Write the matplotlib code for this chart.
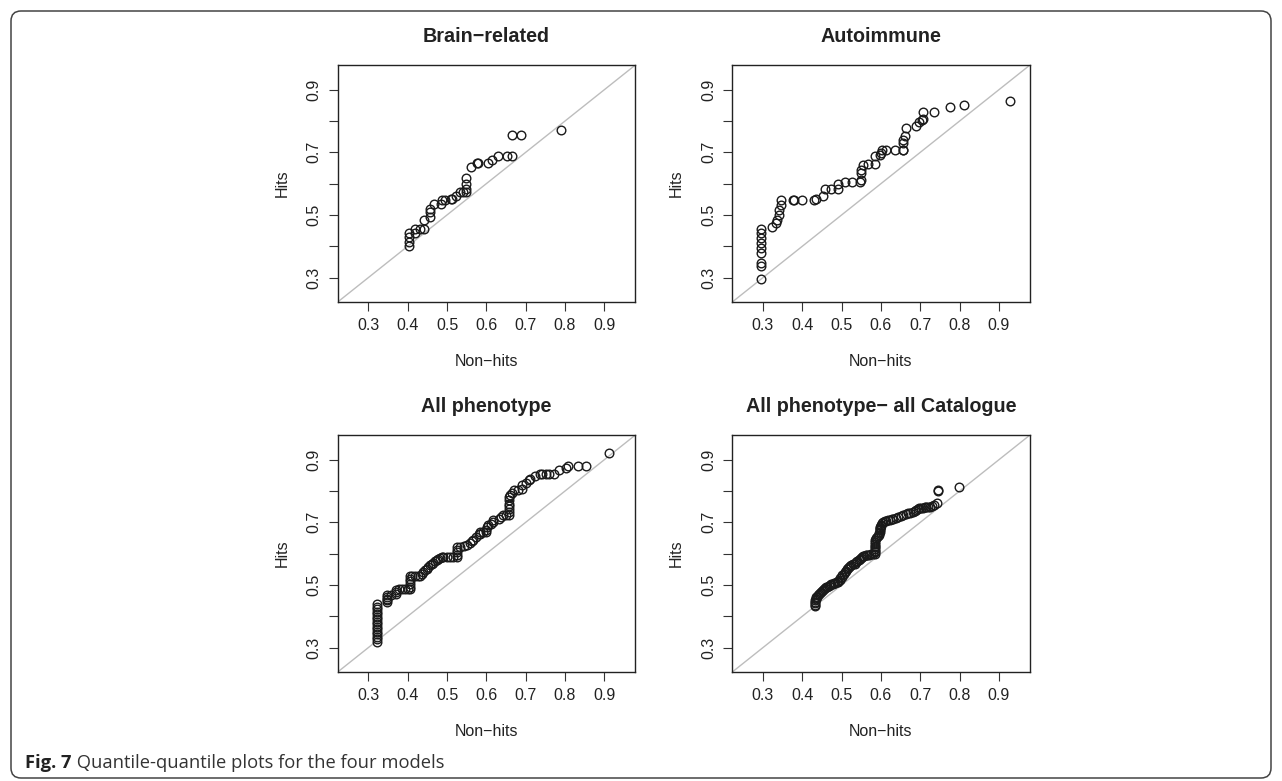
import matplotlib
matplotlib.use('Agg')
import matplotlib.pyplot as plt
from matplotlib.patches import FancyBboxPatch

plt.rcParams['font.family'] = ['Liberation Sans', 'DejaVu Sans']

# quantile pairs (non-hits, hits)
brain_x = [0.403, 0.403, 0.403, 0.403, 0.419, 0.419, 0.431, 0.442, 0.442, 0.457,
           0.457, 0.457, 0.467, 0.484, 0.486, 0.495, 0.509, 0.512, 0.523, 0.533,
           0.540, 0.549, 0.549, 0.549, 0.549, 0.560, 0.575, 0.580, 0.604, 0.615,
           0.630, 0.652, 0.666, 0.666, 0.687, 0.790]
brain_y = [0.400, 0.415, 0.430, 0.443, 0.443, 0.456, 0.456, 0.456, 0.485, 0.494,
           0.508, 0.519, 0.536, 0.536, 0.549, 0.549, 0.551, 0.551, 0.560, 0.572,
           0.572, 0.572, 0.583, 0.599, 0.618, 0.653, 0.666, 0.666, 0.666, 0.677,
           0.689, 0.689, 0.689, 0.756, 0.756, 0.772]

auto_x = [0.294, 0.294, 0.294, 0.294, 0.294, 0.294, 0.294, 0.294, 0.294, 0.324,
          0.332, 0.336, 0.341, 0.342, 0.347, 0.347, 0.376, 0.380, 0.400, 0.431,
          0.435, 0.452, 0.457, 0.474, 0.491, 0.491, 0.508, 0.526, 0.546, 0.550,
          0.550, 0.550, 0.554, 0.567, 0.584, 0.584, 0.597, 0.600, 0.603, 0.614,
          0.635, 0.656, 0.656, 0.656, 0.656, 0.660, 0.664, 0.690, 0.698, 0.704,
          0.707, 0.707, 0.735, 0.776, 0.810, 0.929]
auto_y = [0.296, 0.336, 0.347, 0.379, 0.395, 0.411, 0.427, 0.443, 0.455, 0.462,
          0.474, 0.485, 0.501, 0.517, 0.533, 0.549, 0.549, 0.549, 0.549, 0.549,
          0.551, 0.560, 0.583, 0.583, 0.583, 0.600, 0.605, 0.605, 0.605, 0.611,
          0.634, 0.645, 0.660, 0.664, 0.664, 0.689, 0.693, 0.698, 0.706, 0.706,
          0.706, 0.709, 0.709, 0.730, 0.740, 0.751, 0.778, 0.783, 0.796, 0.802,
          0.806, 0.829, 0.829, 0.846, 0.852, 0.865]

allp_x = [0.321, 0.321, 0.321, 0.321, 0.321, 0.321, 0.321, 0.321, 0.321, 0.321,
          0.321, 0.321, 0.321, 0.321, 0.321, 0.321, 0.348, 0.348, 0.348, 0.348,
          0.348, 0.358, 0.370, 0.370, 0.370, 0.378, 0.385, 0.393, 0.400, 0.406,
          0.406, 0.406, 0.406, 0.406, 0.406, 0.412, 0.419, 0.425, 0.431, 0.436,
          0.440, 0.444, 0.448, 0.452, 0.457, 0.461, 0.465, 0.470, 0.474, 0.478,
          0.482, 0.487, 0.491, 0.500, 0.508, 0.516, 0.525, 0.525, 0.525, 0.525,
          0.525, 0.533, 0.542, 0.550, 0.558, 0.563, 0.567, 0.574, 0.581, 0.584,
          0.584, 0.592, 0.599, 0.600, 0.601, 0.605, 0.612, 0.618, 0.618, 0.631,
          0.636, 0.642, 0.650, 0.658, 0.658, 0.658, 0.658, 0.658, 0.658, 0.658,
          0.660, 0.666, 0.671, 0.681, 0.690, 0.690, 0.700, 0.709, 0.711, 0.724,
          0.736, 0.742, 0.752, 0.759, 0.772, 0.786, 0.802, 0.808, 0.832, 0.853,
          0.913]
allp_y = [0.318, 0.326, 0.334, 0.342, 0.350, 0.358, 0.366, 0.374, 0.382, 0.390,
          0.398, 0.406, 0.414, 0.422, 0.430, 0.440, 0.445, 0.451, 0.456, 0.462,
          0.467, 0.468, 0.472, 0.478, 0.483, 0.486, 0.486, 0.486, 0.486, 0.486,
          0.495, 0.504, 0.512, 0.520, 0.528, 0.528, 0.528, 0.528, 0.528, 0.534,
          0.541, 0.547, 0.552, 0.558, 0.563, 0.567, 0.570, 0.575, 0.579, 0.583,
          0.587, 0.589, 0.589, 0.589, 0.589, 0.589, 0.589, 0.597, 0.605, 0.613,
          0.621, 0.622, 0.623, 0.628, 0.634, 0.639, 0.643, 0.652, 0.662, 0.662,
          0.668, 0.668, 0.668, 0.675, 0.685, 0.690, 0.695, 0.701, 0.709, 0.712,
          0.717, 0.722, 0.722, 0.722, 0.733, 0.744, 0.752, 0.760, 0.770, 0.781,
          0.786, 0.794, 0.802, 0.802, 0.807, 0.818, 0.826, 0.834, 0.839, 0.847,
          0.853, 0.853, 0.853, 0.853, 0.855, 0.866, 0.874, 0.881, 0.881, 0.881,
          0.923]

cat_x = [0.432, 0.432, 0.432, 0.432, 0.432, 0.434, 0.436, 0.438, 0.440, 0.442,
         0.444, 0.447, 0.450, 0.452, 0.455, 0.458, 0.461, 0.464, 0.467, 0.470,
         0.473, 0.477, 0.480, 0.484, 0.487, 0.490, 0.492, 0.495, 0.497, 0.500,
         0.502, 0.505, 0.508, 0.511, 0.514, 0.517, 0.519, 0.522, 0.525, 0.529,
         0.533, 0.537, 0.540, 0.543, 0.546, 0.549, 0.551, 0.555, 0.558, 0.562,
         0.565, 0.570, 0.575, 0.580, 0.584, 0.584, 0.584, 0.584, 0.584, 0.584,
         0.584, 0.585, 0.586, 0.588, 0.590, 0.592, 0.594, 0.596, 0.597, 0.597,
         0.597, 0.598, 0.598, 0.600, 0.601, 0.603, 0.605, 0.610, 0.614, 0.618,
         0.622, 0.627, 0.631, 0.637, 0.643, 0.650, 0.656, 0.663, 0.669, 0.675,
         0.681, 0.686, 0.690, 0.694, 0.698, 0.703, 0.707, 0.711, 0.715, 0.720,
         0.724, 0.730, 0.736, 0.742, 0.746, 0.746, 0.798]
cat_y = [0.432, 0.437, 0.442, 0.447, 0.451, 0.456, 0.460, 0.463, 0.467, 0.470,
         0.474, 0.477, 0.480, 0.483, 0.486, 0.489, 0.492, 0.495, 0.498, 0.500,
         0.503, 0.504, 0.505, 0.506, 0.508, 0.510, 0.513, 0.517, 0.522, 0.527,
         0.532, 0.536, 0.540, 0.545, 0.550, 0.554, 0.558, 0.561, 0.563, 0.566,
         0.568, 0.572, 0.576, 0.580, 0.583, 0.586, 0.589, 0.591, 0.593, 0.595,
         0.596, 0.597, 0.598, 0.599, 0.600, 0.605, 0.610, 0.615, 0.620, 0.626,
         0.632, 0.638, 0.645, 0.649, 0.653, 0.657, 0.660, 0.665, 0.669, 0.674,
         0.678, 0.682, 0.685, 0.689, 0.693, 0.697, 0.700, 0.703, 0.705, 0.707,
         0.708, 0.710, 0.712, 0.715, 0.717, 0.720, 0.722, 0.726, 0.729, 0.731,
         0.733, 0.737, 0.741, 0.744, 0.746, 0.747, 0.747, 0.748, 0.748, 0.749,
         0.749, 0.751, 0.754, 0.762, 0.800, 0.803, 0.812]

titles = ['Brain\u2212related', 'Autoimmune', 'All phenotype', 'All phenotype\u2212 all Catalogue']
ticks = [0.3, 0.4, 0.5, 0.6, 0.7, 0.8, 0.9]
x_labels = ['0.3', '0.4', '0.5', '0.6', '0.7', '0.8', '0.9']
y_labels = ['0.3', '', '0.5', '', '0.7', '', '0.9']  # R drops the crowded ones
lims = (0.222, 0.978)

W, H = 1282, 781
fig = plt.figure(figsize=(W / 100, H / 100), dpi=100)

# panel boxes in pixels: left, top
boxes = [(337.7, 65.3), (732.3, 65.3), (337.7, 435.3), (732.3, 435.3)]
bw, bh = 297.3, 236.7
data = [(brain_x, brain_y), (auto_x, auto_y), (allp_x, allp_y), (cat_x, cat_y)]

for (left, top), (xs, ys), title in zip(boxes, data, titles):
    ax = fig.add_axes([left / W, 1 - (top + bh) / H, bw / W, bh / H])
    ax.axline((0, 0), (1, 1), color='#bdbdbd', lw=1.0, zorder=1)
    ax.plot(xs, ys, 'o', mfc='none', mec='#1a1a1a', ms=6.2, mew=1.0, zorder=2)
    ax.set_xlim(lims)
    ax.set_ylim(lims)
    ax.set_xticks(ticks)
    ax.set_yticks(ticks)
    ax.set_xticklabels(x_labels, fontsize=11.5, color='#222222')
    ax.set_yticklabels(y_labels, fontsize=11.5, color='#222222', rotation=90, va='center')
    ax.tick_params(direction='out', length=6.5, width=0.8, color='#333333', pad=5)
    for s in ax.spines.values():
        s.set_linewidth(1.0)
        s.set_color('#222222')
    ax.set_xlabel('Non\u2212hits', fontsize=11.5, color='#222222', va='center')
    ax.xaxis.set_label_coords(0.5, -0.252)
    ax.set_ylabel('Hits', fontsize=11.5, color='#222222', va='center')
    ax.yaxis.set_label_coords(-0.187, 0.5)
    ax.text(0.5, 1 + 23 / bh, title, transform=ax.transAxes, ha='center', va='baseline',
            fontsize=14.2, fontweight='bold', color='#222222')

# rounded frame around the figure
frame = FancyBboxPatch((11, 3), W - 22, H - 14, boxstyle='round,pad=0,rounding_size=10',
                       transform=None, fill=False, ec='#444444', lw=1.1)
fig.add_artist(frame)

cap = fig.text(25 / W, 1 - 768 / H, 'Fig. 7', fontsize=13.2, fontweight='bold',
               family=['Open Sans', 'DejaVu Sans'], color='#222222', va='baseline')
ann = plt.annotate(' Quantile-quantile plots for the four models', xy=(1, 0), xycoords=cap,
                   va='bottom', ha='left', fontsize=13.2, family=['Open Sans', 'DejaVu Sans'],
                   color='#333333', annotation_clip=False)

fig.savefig('out.png', dpi=100)
